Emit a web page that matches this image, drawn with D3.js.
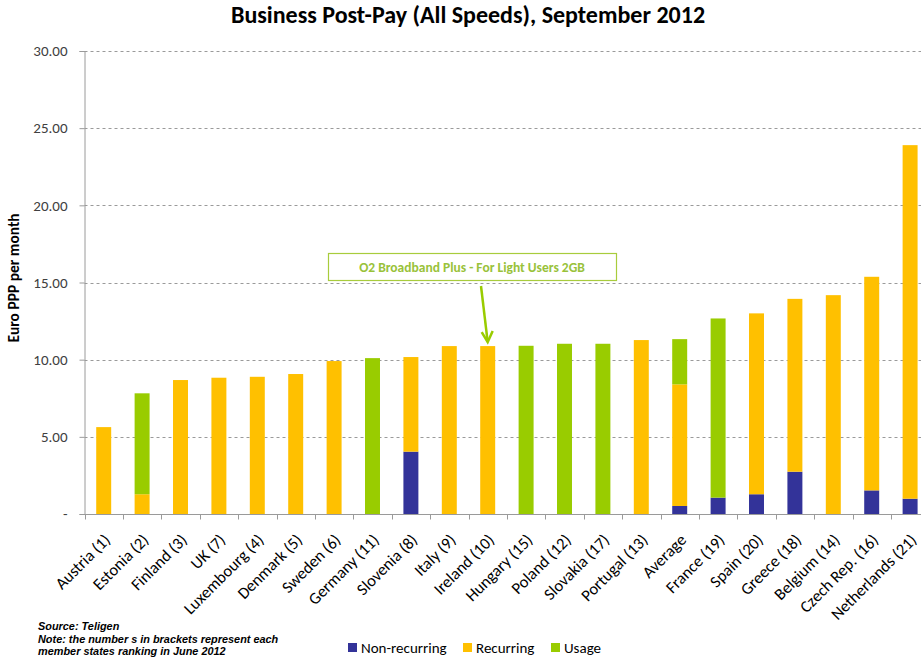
<!DOCTYPE html>
<html><head><meta charset="utf-8">
<script src="https://cdn.jsdelivr.net/npm/d3@7/dist/d3.min.js"></script>
<style>
html,body{margin:0;padding:0;background:#fff;overflow:hidden;}
svg{display:block;}
</style></head>
<body>
<script>
const categories = ["Austria (1)","Estonia (2)","Finland (3)","UK (7)","Luxembourg (4)","Denmark (5)","Sweden (6)","Germany (11)","Slovenia (8)","Italy (9)","Ireland (10)","Hungary (15)","Poland (12)","Slovakia (17)","Portugal (13)","Average","France (19)","Spain (20)","Greece (18)","Belgium (14)","Czech Rep. (16)","Netherlands (21)"];
const nonRecurring = [0,0,0,0,0,0,0,0,4.04,0,0,0,0,0,0,0.52,1.06,1.28,2.74,0,1.53,0.99];
const recurring    = [5.63,1.28,8.68,8.83,8.89,9.07,9.91,0,6.13,10.88,10.88,0,0,0,11.27,7.88,0,11.72,11.2,14.18,13.84,22.91];
const usage        = [0,6.54,0,0,0,0,0,10.1,0,0,0,10.9,11.03,11.03,0,2.93,11.61,0,0,0,0,0];
const seriesNames = ["Non-recurring","Recurring","Usage"];
const yTicks = [0,5,10,15,20,25,30];
const title = "Business Post-Pay (All Speeds), September 2012";
const yTitle = "Euro PPP per month";
const annotationText = "O2 Broadband Plus - For Light Users 2GB";
const annotationTarget = "Ireland (10)";
const sourceLines = ["Source: Teligen","Note: the number s in brackets represent each","member states ranking in June 2012"];

const colors = ["#333399","#ffc000","#99cc00"];
const W = 921, H = 659;
const svg = d3.select("body").append("svg").attr("width",W).attr("height",H);
const font = "Calibri, Carlito, Lato, 'Open Sans', sans-serif";

const x = d3.scaleBand().domain(categories).range([84.5, 929.3]).paddingInner(0.61).paddingOuter(0.305);
const y = d3.scaleLinear().domain([0,30]).range([514, 51]);

// title
svg.append("text").attr("x",468).attr("y",23).attr("text-anchor","middle")
  .attr("font-family",font).attr("font-weight","bold").attr("font-size",24).attr("fill","#000").text(title);

// gridlines
svg.append("g").selectAll("line").data(yTicks.filter(d=>d>0)).join("line")
  .attr("x1",84.5).attr("x2",W).attr("y1",d=>Math.round(y(d))+0.5).attr("y2",d=>Math.round(y(d))+0.5)
  .attr("stroke","#9a9a9a").attr("stroke-dasharray","3,3").attr("stroke-width",1);

// y axis
const yAxis = d3.axisLeft(y).tickValues(yTicks).tickSize(5).tickPadding(12)
  .tickFormat(d=> d===0 ? "-" : d3.format(".2f")(d));
const gy = svg.append("g").attr("transform","translate(84.5,0)").call(yAxis);
gy.select(".domain").attr("stroke","#9a9a9a");
gy.selectAll(".tick line").attr("stroke","#9a9a9a");
gy.selectAll(".tick text").attr("font-family",font).attr("font-size",15).attr("fill","#404040");

// stacked bars
const rows = categories.map((c,i)=>({cat:c, "Non-recurring":nonRecurring[i], "Recurring":recurring[i], "Usage":usage[i]}));
const stack = d3.stack().keys(seriesNames)(rows);
svg.append("g").selectAll("g").data(stack).join("g").attr("fill",(d,i)=>colors[i])
  .selectAll("rect").data(d=>d).join("rect")
  .attr("x",d=>x(d.data.cat)).attr("width",x.bandwidth())
  .attr("y",d=>y(d[1])).attr("height",d=>y(d[0])-y(d[1]));

// x axis
const xAxisG = svg.append("g").attr("transform","translate(0,514.5)");
xAxisG.append("line").attr("x1",84.5).attr("x2",W).attr("stroke","#9a9a9a");
const step = x.step();
const tickXs = d3.range(categories.length+1).map(i=>84.5 + i*step);
xAxisG.selectAll("line.t").data(tickXs).join("line").attr("class","t")
  .attr("x1",d=>Math.round(d)+0.5).attr("x2",d=>Math.round(d)+0.5).attr("y1",0).attr("y2",5).attr("stroke","#9a9a9a");
svg.append("g").selectAll("text").data(categories).join("text")
  .attr("transform",d=>`translate(${x(d)+x.bandwidth()/2+7.5},${541}) rotate(-45)`)
  .attr("text-anchor","end")
  .attr("font-family",font).attr("font-size",16.5).attr("fill","#000").text(d=>d);

// y title
svg.append("text").attr("transform","translate(19,278) rotate(-90)").attr("text-anchor","middle")
  .attr("font-family",font).attr("font-weight","bold").attr("font-size",15.5).text(yTitle);

// annotation
const ann = svg.append("g");
ann.append("rect").attr("x",328.5).attr("y",253.5).attr("width",288).attr("height",27)
  .attr("fill","#fff").attr("stroke","#a8cc3c").attr("stroke-width",1.2);
ann.append("text").attr("x",472).attr("y",271.5).attr("text-anchor","middle")
  .attr("font-family",font).attr("font-weight","bold").attr("font-size",13.5).attr("fill","#99c23a").text(annotationText);
const tx = x(annotationTarget)+x.bandwidth()/2, ty = y(recurring[categories.indexOf(annotationTarget)]) - 4;
ann.append("line").attr("x1",481).attr("y1",286).attr("x2",tx).attr("y2",ty)
  .attr("stroke","#99cc00").attr("stroke-width",2.5);
ann.append("path").attr("d",`M${tx-6},${ty-10} L${tx},${ty} L${tx+5},${ty-11}`)
  .attr("fill","none").attr("stroke","#99cc00").attr("stroke-width",2.5);

// legend
const legX = [348, 463, 551];
const leg = svg.append("g").selectAll("g").data(seriesNames).join("g")
  .attr("transform",(d,i)=>`translate(${legX[i]},643)`);
leg.append("rect").attr("width",9).attr("height",9).attr("fill",(d,i)=>colors[i]);
leg.append("text").attr("x",13).attr("y",9.5).attr("font-family",font).attr("font-size",15).text(d=>d);

// source
svg.append("g").selectAll("text").data(sourceLines).join("text")
  .attr("x",38).attr("y",(d,i)=>630+i*12.5)
  .attr("font-family","'Liberation Sans', Arial, sans-serif").attr("font-weight","bold").attr("font-style","italic").attr("font-size",10.9).text(d=>d);
</script>
</body></html>
